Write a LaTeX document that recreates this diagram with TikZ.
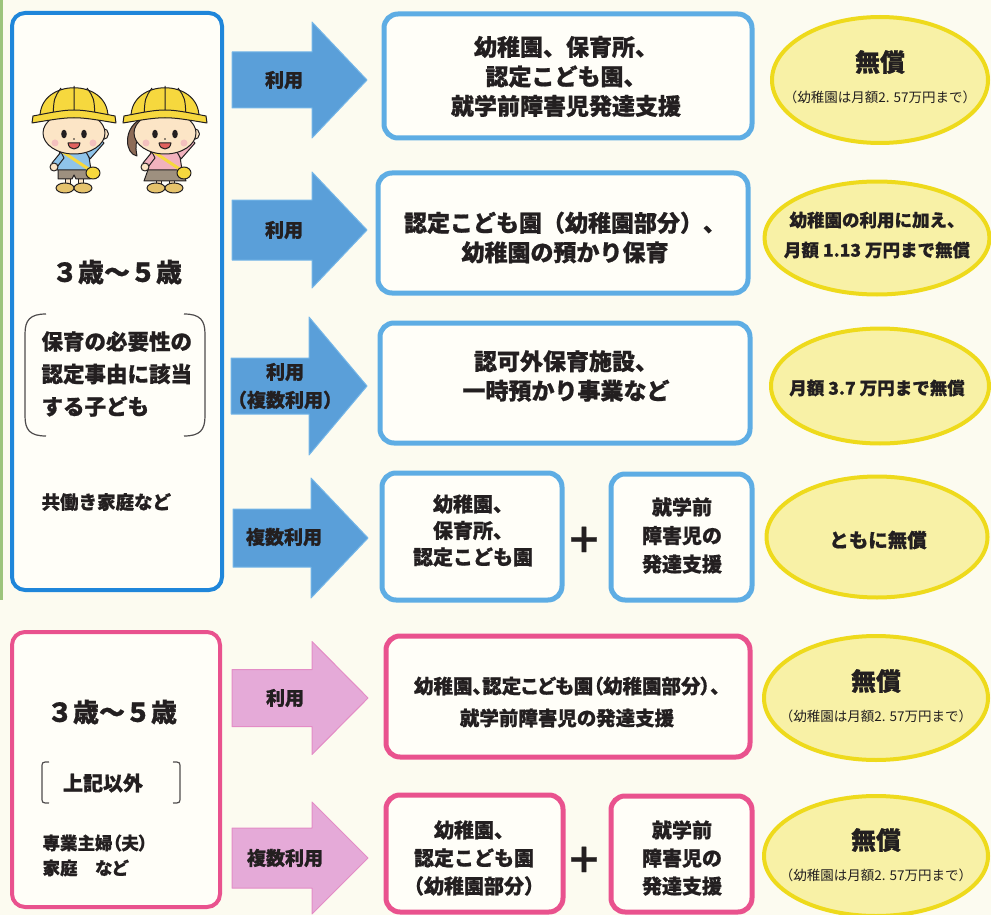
\documentclass[tikz,border=0pt]{standalone}
\usepackage{fontspec}
\setmainfont{Noto Sans CJK JP}[BoldFeatures={FakeBold=0.8}]
\newfontfamily\paltfont{Noto Sans CJK JP}[RawFeature=+palt, BoldFeatures={FakeBold=0.8}]
\usetikzlibrary{shapes.geometric}

\definecolor{paper}{HTML}{FCFBF0}
\definecolor{boxfill}{HTML}{FFFEF8}
\definecolor{ink}{HTML}{231F20}
\definecolor{leftblue}{HTML}{1F86DA}
\definecolor{boxblue}{HTML}{5EADE4}
\definecolor{boxpink}{HTML}{E9528E}
\definecolor{arrowblue}{HTML}{5A9FD9}
\definecolor{arrowblueline}{HTML}{74B6E8}
\definecolor{arrowpink}{HTML}{E5AAD8}
\definecolor{arrowpinkline}{HTML}{E38CC6}
\definecolor{goldfill}{HTML}{F8F1A6}
\definecolor{goldline}{HTML}{EEDA1C}
\definecolor{helmet}{HTML}{F6D83E}
\definecolor{skin}{HTML}{FCE5C6}
\definecolor{shoe}{HTML}{E6C36C}
\definecolor{shorts}{HTML}{9E907F}
\definecolor{hair}{HTML}{8D6B57}
\definecolor{mouth}{HTML}{E2625E}
\definecolor{boyshirt}{HTML}{8FC4EA}
\definecolor{girlshirt}{HTML}{F2B2BE}
\definecolor{edgegreen}{HTML}{9CC47C}

\newcommand\tsize[2]{\fontsize{#1}{#2}\selectfont}

% flat block arrow: style, tail x, head x, tip x, mid y, half body, half head
\newcommand\blockarrow[7]{%
  \filldraw[#1] (#2,#5-#6) -- (#3,#5-#6) -- (#3,#5-#7) -- (#4,#5)
    -- (#3,#5+#7) -- (#3,#5+#6) -- (#2,#5+#6) -- cycle;}

% child in a school helmet: centre x, shirt, lower clothes, hair
\newcommand\kid[4]{%
  \begin{scope}[shift={(#1,0)}, color=ink, line width=1pt]
    \filldraw[fill=skin] (-9,176) rectangle (-4,186) (4,176) rectangle (9,186);
    \filldraw[fill=shoe] (-9,188) ellipse [x radius=9, y radius=5]
                         (9,188) ellipse [x radius=9, y radius=5];
    #3
    \filldraw[fill=#2] (-14,150) -- (14,150) -- (17,170) -- (-17,170) -- cycle;
    \filldraw[fill=#2] (-13,152) -- (-22,163) -- (-17,167) -- (-10,158) -- cycle;
    \filldraw[fill=#2] (12,152) -- (25,138) -- (30,143) -- (16,159) -- cycle;
    \filldraw[fill=skin] (-20,167) circle [radius=4] (29,134) circle [radius=5.5];
    \draw[helmet, line width=3pt] (-11,152) -- (16,170);
    \filldraw[fill=helmet] (19,173) ellipse [x radius=7, y radius=6];
    #4
    \filldraw[fill=skin] (0,133) ellipse [x radius=31, y radius=21];
    \fill (-10,134) ellipse [x radius=2.8, y radius=4.3] (10,134) ellipse [x radius=2.8, y radius=4.3];
    \fill (0,139) circle [radius=0.9];
    \filldraw[fill=mouth] (-6,143) .. controls (-5,151) and (5,151) .. (6,143) -- cycle;
    \fill[mouth!40] (-19,143) circle [radius=3.5] (19,143) circle [radius=3.5];
    \filldraw[fill=helmet] (-34,117) .. controls (-34,78) and (34,78) .. (34,117) -- cycle;
    \draw (0,86) -- (0,116) (-13,88) .. controls (-20,98) .. (-21,116)
          (13,88) .. controls (20,98) .. (21,116);
    \filldraw[fill=helmet] (-41,116) .. controls (0,108) .. (41,116) -- (42,123)
          .. controls (0,116) .. (-42,123) -- cycle;
  \end{scope}}

\tikzset{
  every node/.style={text=ink, font=\bfseries},
  group/.style={draw=leftblue, line width=4pt, fill=boxfill, rounded corners=13pt},
  bluebox/.style={draw=boxblue, line width=5pt, fill=boxfill, rounded corners=14pt},
  pinkbox/.style={bluebox, draw=boxpink},
  price/.style={ellipse, draw=goldline, fill=goldfill, line width=4pt},
  blueflow/.style={fill=arrowblue, draw=arrowblueline, line width=1pt},
  pinkflow/.style={fill=arrowpink, draw=arrowpinkline, line width=1pt},
  boxtext/.style={align=center, font=\bfseries\tsize{23}{29.5}},
  smalltext/.style={align=center, font=\bfseries\tsize{20}{27}},
  flowtext/.style={align=center, font=\bfseries\tsize{19}{28}},
  note/.style={font=\tsize{13.5}{16}},
  bracket/.style={draw=ink!80, line width=1.2pt},
}

\begin{document}
\begin{tikzpicture}[x=1pt,y=-1pt,line join=round]
  \fill[paper] (0,0) rectangle (991,915);
  \useasboundingbox (0,0) rectangle (991,915);
  \fill[edgegreen] (0,0) rectangle (2.5,600);

  % children who need day care
  \node[group, minimum width=210, minimum height=577] (groupA) at (117,301.5) {};
  \kid{74}{boyshirt}{\filldraw[fill=shorts] (-16,168) -- (16,168) -- (16,179) -- (2,179)
      -- (0,175) -- (-2,179) -- (-16,179) -- cycle;}{}
  \kid{165}{girlshirt}{\filldraw[fill=shorts] (-16,167) -- (16,167) -- (21,181) -- (-21,181) -- cycle;}
      {\filldraw[fill=hair] (-26,120) .. controls (-42,130) and (-40,154) .. (-28,156)
          .. controls (-30,144) .. (-22,130) -- cycle;}
  \node (ageA) at (117,272) {\tsize{26}{30}３歳〜５歳};
  \node[anchor=west, align=left, font=\bfseries\tsize{21.5}{32.5}] (needA) at (38,374)
      {保育の必要性の\\認定事由に該当\\する子ども};
  \draw[bracket] (46,314) .. controls (30,314) and (25,320) .. (25,334) -- (25,416)
      .. controls (25,430) and (30,436) .. (46,436);
  \draw[bracket] (184,314) .. controls (200,314) and (205,320) .. (205,334) -- (205,416)
      .. controls (205,430) and (200,436) .. (184,436);
  \node[anchor=west, font=\bfseries\tsize{18.5}{22}] (homeA) at (38,502) {共働き家庭など};

  % other children
  \node[group, draw=boxpink, minimum width=208, minimum height=275] (groupB) at (116,769.5) {};
  \node (ageB) at (112,712) {\tsize{26}{30}３歳〜５歳};
  \node[font=\bfseries\tsize{20}{24}] (otherB) at (103,783) {上記以外};
  \draw[bracket] (49,762) .. controls (42,762) .. (42,768) -- (42,797)
      .. controls (42,803) .. (49,803);
  \draw[bracket] (173,762) .. controls (180,762) .. (180,768) -- (180,797)
      .. controls (180,803) .. (173,803);
  \node[anchor=west, align=left, font=\bfseries\paltfont\tsize{17.5}{25}] (homeB) at (39,855.5)
      {専業主婦（夫）\\家庭　など};

  % arrows
  \blockarrow{blueflow}{232}{312}{367}{80}{28}{58}
  \blockarrow{blueflow}{232}{312}{367}{230}{30}{58}
  \blockarrow{blueflow}{231}{309}{367}{386}{28}{69}
  \blockarrow{blueflow}{233}{311}{368}{538}{29}{60}
  \blockarrow{pinkflow}{232}{312}{368}{698}{28.5}{56.5}
  \blockarrow{pinkflow}{232}{312}{368}{858}{30}{56}
  \node[flowtext] (use1) at (284,80) {利用};
  \node[flowtext] (use2) at (284,230) {利用};
  \node[flowtext] (use3) at (285,386) {利用\\（複数利用）};
  \node[flowtext] (use4) at (284,537) {複数利用};
  \node[flowtext] (use5) at (285,698) {利用};
  \node[flowtext] (use6) at (285,858) {複数利用};

  % services
  \node[bluebox, minimum width=368, minimum height=124] (svc1) at (568,76) {};
  \node[boxtext] at (566,76.5) {幼稚園、保育所、\\認定こども園、\\就学前障害児発達支援};
  \node[bluebox, minimum width=370, minimum height=120] (svc2) at (563,233) {};
  \node[boxtext] at (565,237.5) {認定こども園（幼稚園部分）、\\幼稚園の預かり保育};
  \node[bluebox, minimum width=370, minimum height=120] (svc3) at (565,383) {};
  \node[boxtext] at (566,376) {認可外保育施設、\\一時預かり事業など};
  \node[bluebox, minimum width=180, minimum height=127] (svc4) at (472,536.5) {};
  \node[smalltext, font=\bfseries\tsize{20}{26.5}] at (473,530.5) {幼稚園、\\保育所、\\認定こども園};
  \node[font=\bfseries\tsize{36}{36}] (plus4) at (584,540) {＋};
  \node[bluebox, minimum width=141, minimum height=126] (dev4) at (681.5,537) {};
  \node[smalltext, font=\bfseries\tsize{20}{28.5}] at (682,535.5) {就学前\\障害児の\\発達支援};
  \node[pinkbox, minimum width=364, minimum height=121] (svc5) at (568,696.5) {};
  \node[boxtext, font=\bfseries\paltfont\tsize{19.5}{32}] at (567,702) {幼稚園、認定こども園（幼稚園部分）、\\就学前障害児の発達支援};
  \node[pinkbox, minimum width=177, minimum height=117] (svc6) at (474.5,853.5) {};
  \node[smalltext, font=\bfseries\tsize{20}{28}] at (474,858) {幼稚園、\\認定こども園\\（幼稚園部分）};
  \node[font=\bfseries\tsize{36}{36}] (plus6) at (584,860) {＋};
  \node[pinkbox, minimum width=141, minimum height=116] (dev6) at (681.5,854) {};
  \node[smalltext, font=\bfseries\tsize{20}{28}] at (682,858) {就学前\\障害児の\\発達支援};

  % fees
  \node[price, minimum width=216, minimum height=126] (fee1) at (880,80) {};
  \node[font=\bfseries\tsize{25}{25}] at (880,62) {無償};
  \node[note] at (880,97) {（幼稚園は月額2. 57万円まで）};
  \node[price, minimum width=225, minimum height=113] (fee2) at (877,238) {};
  \node[align=center, font=\bfseries\tsize{17.5}{30}] at (877,235) {幼稚園の利用に加え、\\月額 1.13 万円まで無償};
  \node[price, minimum width=218, minimum height=115] (fee3) at (880,386) {};
  \node[font=\bfseries\tsize{17.5}{20}] at (877,388) {月額 3.7 万円まで無償};
  \node[price, minimum width=221, minimum height=121] (fee4) at (877,537) {};
  \node[font=\bfseries\tsize{19.5}{22}] at (878,540) {ともに無償};
  \node[price, minimum width=224, minimum height=124] (fee5) at (876,698) {};
  \node[font=\bfseries\tsize{25}{25}] at (876,681) {無償};
  \node[note] at (876,716) {（幼稚園は月額2. 57万円まで）};
  \node[price, minimum width=224, minimum height=120] (fee6) at (876,856) {};
  \node[font=\bfseries\tsize{25}{25}] at (876,840) {無償};
  \node[note] at (876,875) {（幼稚園は月額2. 57万円まで）};
\end{tikzpicture}
\end{document}
